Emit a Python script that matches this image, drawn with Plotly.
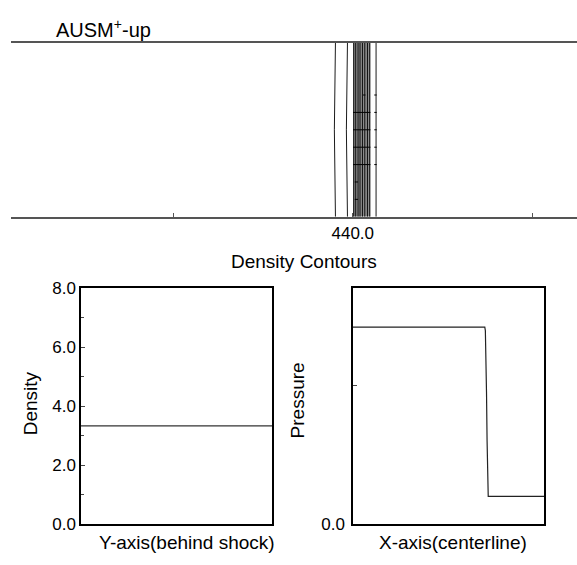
import plotly.graph_objects as go

W, H = 577, 565
FONT = "Liberation Sans, Arial, Helvetica, sans-serif"

# --- top panel: density contour positions along the centerline ---
contour_x = [438.07, 439.41, 440.11, 440.33, 440.59, 440.81, 441.08,
             441.34, 441.64, 441.89, 442.60]
# slight bow in the two upstream contours (x at mid height)
bow_x = {438.07: 437.95, 439.41: 439.29}
band_x = [440.03, 441.97]          # dense (grey) contour band
# short cross marks inside the band: (y, x_start, x_end)
marks = [
    (0.7, 441.15, 441.42), (0.7, 442.40, 442.67),
    (0.6, 440.03, 441.97), (0.6, 442.40, 442.67),
    (0.5, 440.03, 441.97), (0.5, 442.40, 442.67),
    (0.4, 440.03, 441.97), (0.4, 442.40, 442.67),
    (0.3, 440.03, 441.97), (0.3, 442.40, 442.67),
    (0.2, 440.22, 440.59),
    (0.1, 440.22, 440.59),
]
top_label_ticks = [440]
top_label_text = ["440.0"]
top_plain_ticks = [420, 460]

# --- bottom left: density behind the shock ---
dens_s = [0.0, 0.25, 0.5, 0.75, 1.0]
dens_v = [3.33, 3.33, 3.34, 3.33, 3.33]
dens_ticks = [0, 2, 4, 6, 8]
dens_ticktext = ["0.0", "2.0", "4.0", "6.0", "8.0"]

# --- bottom right: pressure along the centerline ---
pres_s = [0.0, 0.690, 0.693, 0.696, 0.699, 0.702, 0.705, 0.708, 1.0]
pres_v = [28.4, 28.4, 27.9, 25.0, 19.0, 12.0, 6.5, 4.0, 4.0]
pres_plain_ticks = [20]

fig = go.Figure()

# grey band
fig.add_trace(go.Scatter(
    x=[band_x[0], band_x[1], band_x[1], band_x[0], band_x[0]],
    y=[0, 0, 1, 1, 0], fill="toself", fillcolor="#8c8c8c",
    line=dict(width=0), mode="lines", hoverinfo="skip",
    xaxis="x", yaxis="y"))

cx, cy = [], []
for x in contour_x:
    mid = bow_x.get(x, x)
    cx += [x, mid, x, None]
    cy += [0, 0.5, 1, None]
fig.add_trace(go.Scatter(x=cx, y=cy, mode="lines",
                         line=dict(color="black", width=0.9),
                         xaxis="x", yaxis="y"))

mx, my = [], []
for y, x0, x1 in marks:
    mx += [x0, x1, None]
    my += [y, y, None]
fig.add_trace(go.Scatter(x=mx, y=my, mode="lines",
                         line=dict(color="black", width=1),
                         xaxis="x", yaxis="y"))

fig.add_trace(go.Scatter(x=dens_s, y=dens_v, mode="lines",
                         line=dict(color="#333", width=1.2),
                         xaxis="x2", yaxis="y2"))
fig.add_trace(go.Scatter(x=pres_s, y=pres_v, mode="lines",
                         line=dict(color="#222", width=1.2),
                         xaxis="x3", yaxis="y3"))

box = dict(showline=True, mirror=True, linecolor="black", linewidth=1.5,
           showgrid=False, zeroline=False)
bot_dom = [1 - 533 / H, 1 - 289 / H]

fig.update_layout(
    width=W, height=H, margin=dict(l=0, r=0, t=0, b=0),
    paper_bgcolor="white", plot_bgcolor="white", showlegend=False,
    font=dict(family=FONT, size=17, color="black"),
    xaxis=dict(domain=[11 / W, 1.0], range=[401.9, 465.0],
               showline=True, mirror=True, linecolor="#555", linewidth=1.5,
               ticks="inside", ticklen=4, tickcolor="#555",
               tickvals=top_label_ticks, ticktext=top_label_text,
               minor=dict(tickvals=top_plain_ticks, ticks="inside",
                          ticklen=4, tickcolor="#555", showgrid=False),
               showgrid=False, zeroline=False, tickfont=dict(size=17)),
    yaxis=dict(domain=[1 - 215 / H, 1 - 35 / H], range=[0, 1],
               visible=False),
    xaxis2=dict(domain=[81 / W, 272 / W], range=[0, 1], anchor="y2",
                showticklabels=False, ticks="", **box),
    yaxis2=dict(domain=bot_dom, range=[0, 8], anchor="x2",
                tickvals=dens_ticks, ticktext=dens_ticktext,
                ticks="inside", ticklen=4, tickfont=dict(size=17),
                minor=dict(ticks="inside", ticklen=3, dtick=1,
                           tick0=0, showgrid=False),
                **box),
    xaxis3=dict(domain=[353 / W, 544 / W], range=[0, 1], anchor="y3",
                showticklabels=False, ticks="", **box),
    yaxis3=dict(domain=bot_dom, range=[0, 34], anchor="x3",
                tickvals=[0], ticktext=["0.0"],
                ticks="inside", ticklen=4, tickfont=dict(size=17),
                minor=dict(tickvals=pres_plain_ticks, ticks="inside",
                           ticklen=4, showgrid=False),
                ticklabelstandoff=3, **box),
)

ann = [
    ("AUSM<sup>+</sup>-up", 54, 20, 0, "left", 20),
    ("Density Contours", 304, 261, 0, "center", 19),
    ("Density", 30, 408, -90, "center", 19),
    ("Pressure", 297, 405, -90, "center", 19),
    ("Y-axis(behind shock)", 187, 552, 0, "center", 19),
    ("X-axis(centerline)", 453, 552, 0, "center", 19),
]
for text, px, py, ang, xa, sz in ann:
    fig.add_annotation(text=text, xref="paper", yref="paper",
                       x=px / W, y=1 - py / H, xanchor=xa, yanchor="middle",
                       textangle=ang, showarrow=False,
                       font=dict(size=sz, family=FONT, color="black"))

fig.write_html("out.html", config={"displayModeBar": False},
               post_script="document.body.style.margin='0px';")
